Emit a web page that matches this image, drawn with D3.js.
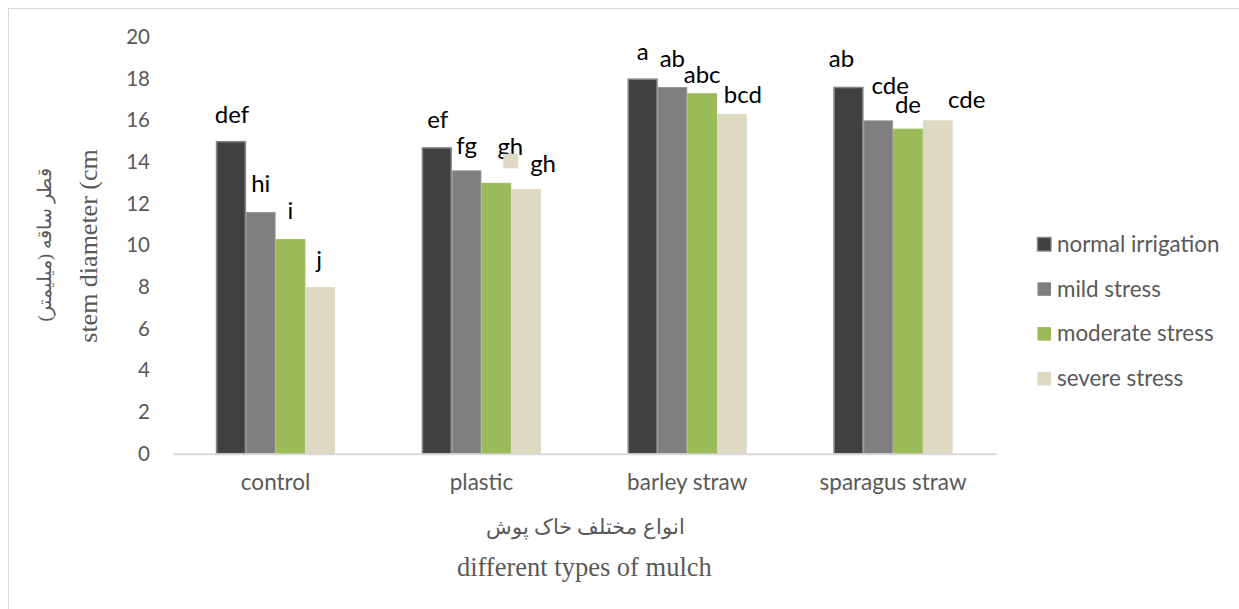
<!DOCTYPE html>
<html>
<head>
<meta charset="utf-8">
<script src="https://cdn.jsdelivr.net/npm/d3@7/dist/d3.min.js"></script>
<style>
  html, body { margin: 0; padding: 0; background: #fff; }
  svg { display: block; }
</style>
</head>
<body>
<svg id="chart" width="1239" height="609"></svg>
<script>
// Mulch types on the x axis
const categories = ["control", "plastic", "barley straw", "sparagus straw"];

// Irrigation treatments (legend order)
const seriesNames = ["normal irrigation", "mild stress", "moderate stress", "severe stress"];

// Stem diameter per treatment, one value per mulch type
const normalIrrigation = [15.0, 14.7, 18.0, 17.6];
const mildStress       = [11.6, 13.6, 17.6, 16.0];
const moderateStress   = [10.3, 13.0, 17.3, 15.6];
const severeStress     = [8.0, 12.7, 16.3, 16.0];

// Mean-separation letters, same layout as the values
const lettersNormal   = ["def", "ef", "a", "ab"];
const lettersMild     = ["hi", "fg", "ab", "cde"];
const lettersModerate = ["i", "gh", "abc", "de"];
const lettersSevere   = ["j", "gh", "bcd", "cde"];

const yTicks = [0, 2, 4, 6, 8, 10, 12, 14, 16, 18, 20];

const seriesValues = [normalIrrigation, mildStress, moderateStress, severeStress];
const seriesLetters = [lettersNormal, lettersMild, lettersModerate, lettersSevere];

// Visual styling per series
const fills   = ["#404040", "#7f7f7f", "#9bbb59", "#ddd9c3"];
const strokes = ["#858585", "#9a9a9a", "#9bbb59", "#ddd9c3"];

// Hand-placed letter offsets [dx, baseline gap above bar], indexed [series][category]
const letterOffsets = [
  [[1, 18], [1, 19], [0, 19], [-7, 20]],
  [[0, 20], [0, 16.5], [0, 20], [12, 26]],
  [[0, 20], [14, 28], [0, 10], [0, 15.5]],
  [[-1, 19], [17, 17.5], [11, 11.5], [29, 12]]
];

const svg = d3.select("#chart");
const font = "Lato, 'Open Sans', sans-serif";
const serif = "'Liberation Serif', 'Times New Roman', serif";

// Outer frame
svg.append("rect")
  .attr("x", 8.5).attr("y", 8.5)
  .attr("width", 1260).attr("height", 620)
  .attr("fill", "none").attr("stroke", "#d9d9d9").attr("stroke-width", 1);

const plot = { left: 172.7, right: 996, top: 37, bottom: 453.7 };

const x0 = d3.scaleBand()
  .domain(categories)
  .range([plot.left, plot.right])
  .paddingInner(0.4218)
  .paddingOuter(0.2109);

const x1 = d3.scaleBand()
  .domain(d3.range(seriesNames.length))
  .range([0, x0.bandwidth()])
  .padding(0);

const y = d3.scaleLinear().domain([0, 20]).range([plot.bottom, plot.top]);

// Y axis: labels only
const yAxis = d3.axisLeft(y).tickValues(yTicks).tickSize(0).tickPadding(0);
const yG = svg.append("g")
  .attr("transform", `translate(${150},0)`)
  .call(yAxis);
yG.select(".domain").remove();
yG.selectAll("text")
  .attr("font-family", font)
  .attr("font-size", 20.5)
  .attr("fill", "#595959");

// Bars
const rows = [];
seriesValues.forEach((vals, s) => {
  vals.forEach((v, c) => rows.push({ s, c, v, letter: seriesLetters[s][c] }));
});

svg.append("g").selectAll("rect")
  .data(rows)
  .join("rect")
  .attr("x", d => x0(categories[d.c]) + x1(d.s) + 0.5)
  .attr("y", d => y(d.v) + 0.5)
  .attr("width", x1.bandwidth() - 1)
  .attr("height", d => y(0) - y(d.v) - 0.5)
  .attr("fill", d => fills[d.s])
  .attr("stroke", d => strokes[d.s])
  .attr("stroke-width", d => d.s === 0 ? 1.6 : 1);

// X axis line and category labels
const xAxis = d3.axisBottom(x0).tickSize(0).tickPadding(20);
const xG = svg.append("g")
  .attr("transform", `translate(0,${plot.bottom})`)
  .call(xAxis);
xG.select(".domain")
  .attr("stroke", "#d9d9d9")
  .attr("stroke-width", 2);
xG.selectAll("text")
  .attr("font-family", font)
  .attr("font-size", 22.5)
  .attr("fill", "#595959");

// Letters above bars
svg.append("g").selectAll("text")
  .data(rows)
  .join("text")
  .attr("x", d => x0(categories[d.c]) + x1(d.s) + x1.bandwidth() / 2 + letterOffsets[d.s][d.c][0])
  .attr("y", d => y(d.v) - letterOffsets[d.s][d.c][1])
  .attr("text-anchor", "middle")
  .attr("font-family", font)
  .attr("font-size", 24)
  .attr("fill", "#000")
  .text(d => d.letter);

// Stray legend swatch sitting on the plastic / moderate stress letters
{
  const d = rows.find(r => r.s === 2 && r.c === 1);
  const cx = x0(categories[d.c]) + x1(d.s) + x1.bandwidth() / 2 + letterOffsets[d.s][d.c][0];
  const by = y(d.v) - letterOffsets[d.s][d.c][1];
  svg.append("rect")
    .attr("x", cx - 7).attr("y", by - 1)
    .attr("width", 15).attr("height", 14.5)
    .attr("fill", fills[3]);
}

// Legend
const legend = svg.append("g").attr("transform", "translate(1037,244)");
const items = legend.selectAll("g")
  .data(seriesNames)
  .join("g")
  .attr("transform", (d, i) => `translate(0,${i * 44.8})`);
items.append("rect")
  .attr("x", 0.5).attr("y", -6.5)
  .attr("width", 13.5).attr("height", 13.5)
  .attr("fill", (d, i) => fills[i])
  .attr("stroke", (d, i) => i === 0 ? "#858585" : "none")
  .attr("stroke-width", 1.4);
items.append("text")
  .attr("x", 20)
  .attr("y", 0)
  .attr("dy", "0.35em")
  .attr("font-family", font)
  .attr("font-size", 22.4)
  .attr("fill", "#595959")
  .text(d => d);

// Y axis titles
svg.append("text")
  .attr("transform", "translate(88,246) rotate(-90)")
  .attr("text-anchor", "middle")
  .attr("dy", "0.35em")
  .attr("font-family", serif)
  .attr("font-size", 26)
  .attr("fill", "#595959")
  .text("stem diameter (cm");

svg.append("text")
  .attr("transform", "translate(44,245) rotate(-90)")
  .attr("text-anchor", "middle")
  .attr("dy", "0.35em")
  .attr("font-family", serif)
  .attr("font-size", 19)
  .attr("fill", "#595959")
  .text("قطر ساقه (میلیمتر)");

// X axis titles
const xMid = (plot.left + plot.right) / 2;
svg.append("text")
  .attr("x", xMid + 1)
  .attr("y", 527)
  .attr("dy", "0.35em")
  .attr("text-anchor", "middle")
  .attr("font-family", serif)
  .attr("font-size", 21)
  .attr("fill", "#595959")
  .text("انواع مختلف خاک پوش");

svg.append("text")
  .attr("x", xMid)
  .attr("y", 576)
  .attr("text-anchor", "middle")
  .attr("font-family", serif)
  .attr("font-size", 26.5)
  .attr("fill", "#595959")
  .text("different types of mulch");
</script>
</body>
</html>
